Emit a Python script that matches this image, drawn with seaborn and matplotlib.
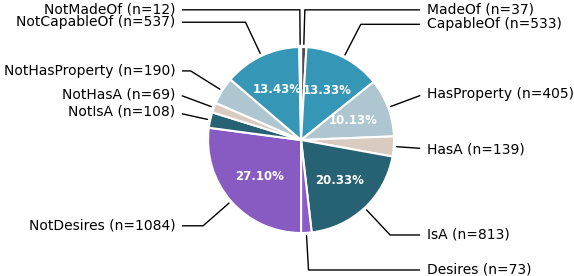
import numpy as np
import matplotlib
matplotlib.use("Agg")
import matplotlib.pyplot as plt
import seaborn as sns

# relation types, clockwise from 12 o'clock
relations = ["MadeOf", "CapableOf", "HasProperty", "HasA", "IsA", "Desires",
             "NotDesires", "NotIsA", "NotHasA", "NotHasProperty", "NotCapableOf", "NotMadeOf"]
counts = [37, 533, 405, 139, 813, 73, 1084, 108, 69, 190, 537, 12]
colors = ["#4d4d4d", "#3596b6", "#aec6d0", "#d9cbc0", "#276174", "#8a5cc4",
          "#875bc2", "#276174", "#d9cbc0", "#aec6d0", "#3596b6", "#4d4d4d"]

sns.set_theme(style="white")
plt.rcParams['font.family'] = ['DejaVu Sans']
plt.rcParams['text.color'] = 'black'

fig = plt.figure(figsize=(5.74, 2.76), dpi=100)
ax = fig.add_axes([0, 0, 1, 1])


def pct_label(p):
    # round half up so 13.325 -> 13.33
    return f"{np.floor(p * 100 + 0.5 + 1e-9) / 100:.2f}%" if p > 10 else ""


wedges, _, autotexts = ax.pie(
    counts, colors=colors, startangle=90, counterclock=False,
    autopct=pct_label, pctdistance=0.6,
    wedgeprops=dict(edgecolor="white", linewidth=1.5),
    textprops=dict(color="white", fontsize=8.5, fontweight="bold"),
)

bbox_props = dict(boxstyle="square,pad=0.3", fc="none", ec="none")
for w, name, n in zip(wedges, relations, counts):
    ang = (w.theta2 - w.theta1) / 2.0 + w.theta1
    y = np.sin(np.deg2rad(ang))
    x = np.cos(np.deg2rad(ang))
    ha = {-1: "right", 1: "left"}[int(np.sign(x))]
    conn = f"angle,angleA=0,angleB={ang}"
    ax.annotate(f"{name} (n={n})", xy=(x, y), xytext=(1.35 * np.sign(x), 1.4 * y),
                ha=ha, va="center", fontsize=10, color="black", bbox=bbox_props, zorder=0,
                arrowprops=dict(arrowstyle="-", color="black", lw=1.0,
                                connectionstyle=conn))

ax.set_xlim(-3.237, 2.935)
ax.set_ylim(-1.462, 1.505)
ax.axis("off")

fig.savefig("out.png", dpi=100)
